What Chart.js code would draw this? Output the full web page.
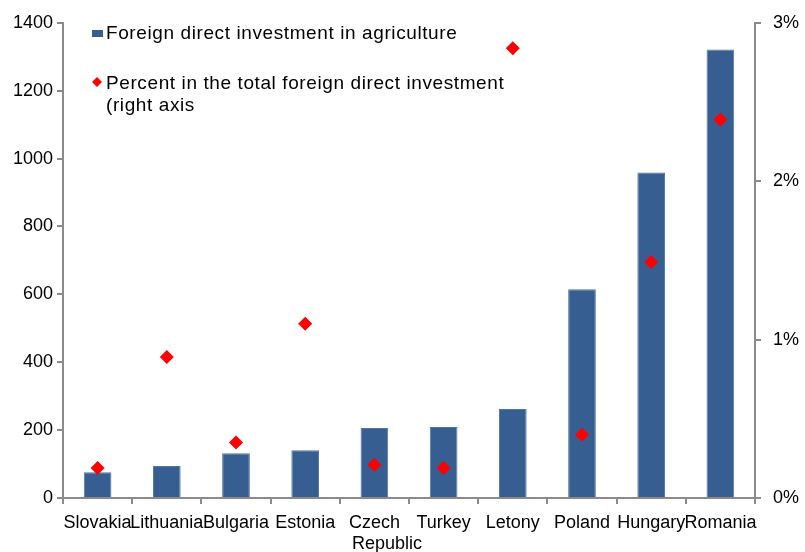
<!DOCTYPE html>
<html>
<head>
<meta charset="utf-8">
<script src="https://cdn.jsdelivr.net/npm/chart.js@4/dist/chart.umd.min.js"></script>
<style>
  html, body { margin: 0; padding: 0; background: #fff; }
  #wrap { width: 805px; height: 552px; position: relative; }
</style>
</head>
<body>
<div id="wrap"><canvas id="fdiChart"></canvas></div>
<script>
// data
const countries = ['Slovakia', 'Lithuania', 'Bulgaria', 'Estonia', ['Czech', 'Republic'],
                   'Turkey', 'Letony', 'Poland', 'Hungary', 'Romania'];
const fdiAgriculture = [76, 94, 132, 141, 206, 209, 262, 615, 959, 1321];
const sharePercent = [0.19, 0.89, 0.35, 1.10, 0.21, 0.19, 2.84, 0.40, 1.49, 2.39];
const leftTicks = [0, 200, 400, 600, 800, 1000, 1200, 1400];
const rightTicks = [0, 1, 2, 3];
const seriesNames = ['Foreign direct investment in agriculture',
                     ['Percent in the total foreign direct investment', '(right axis']];

const axisGrey = '#8a8a8a';
const barBlue = '#365e91';
const fontFamily = '"Liberation Sans", Arial, sans-serif';

// legend drawn inside the plot, top left, like the original
const legendPlugin = {
    id: 'insideLegend',
    afterDraw(chart) {
        const c = chart.ctx;
        c.save();
        c.font = '19px ' + fontFamily;
        c.letterSpacing = '0.6px';
        c.textBaseline = 'middle';
        c.textAlign = 'left';

        c.fillStyle = barBlue;
        c.fillRect(92, 30, 11, 7);
        c.fillStyle = '#000';
        c.fillText(seriesNames[0], 106, 34);

        c.fillStyle = 'red';
        c.beginPath();
        c.moveTo(97, 77); c.lineTo(102, 82); c.lineTo(97, 87); c.lineTo(92, 82);
        c.closePath();
        c.fill();
        c.fillStyle = '#000';
        c.fillText(seriesNames[1][0], 106, 84);
        c.fillText(seriesNames[1][1], 106, 106);
        c.restore();
    }
};

const ctx = document.getElementById('fdiChart');
new Chart(ctx, {
    data: {
        labels: countries,
        datasets: [{
            type: 'line',
            label: 'share',
            data: sharePercent,
            yAxisID: 'y1',
            showLine: false,
            pointStyle: 'rectRot',
            pointRadius: 7,
            pointBorderWidth: 0,
            backgroundColor: 'red',
            borderColor: 'red',
            order: 0
        }, {
            type: 'bar',
            label: 'fdi',
            data: fdiAgriculture,
            yAxisID: 'y',
            backgroundColor: barBlue,
            borderColor: '#4f77a8',
            borderWidth: 1,
            categoryPercentage: 1,
            barPercentage: 0.4,
            order: 1
        }]
    },
    options: {
        responsive: true,
        maintainAspectRatio: false,
        animation: false,
        layout: { padding: { top: 22, left: 0, right: 0, bottom: 0 } },
        plugins: {
            legend: { display: false },
            tooltip: { enabled: false }
        },
        scales: {
            x: {
                offset: true,
                border: { display: true, color: axisGrey, width: 2 },
                grid: { offset: true, drawOnChartArea: false, drawTicks: true, tickLength: 6, color: axisGrey, lineWidth: 2 },
                ticks: {
                    color: '#000', autoSkip: false, maxRotation: 0, padding: 8,
                    font: { family: fontFamily, size: 18 },
                    // the two-line label is left aligned in the original
                    callback(value) {
                        const l = this.getLabelForValue(value);
                        return Array.isArray(l) ? [l[0], '     ' + l[1]] : l;
                    }
                },
                afterFit(scale) { scale.height = 54; }
            },
            y: {
                position: 'left',
                min: 0, max: 1400,
                afterBuildTicks(scale) { scale.ticks = leftTicks.map(v => ({ value: v })); },
                border: { display: true, color: axisGrey, width: 2 },
                grid: { drawOnChartArea: false, drawTicks: true, tickLength: 6, color: axisGrey, lineWidth: 2 },
                ticks: {
                    color: '#000', padding: 4,
                    font: { family: fontFamily, size: 18 },
                    callback: v => String(v)
                },
                afterFit(scale) { scale.width = 63; }
            },
            y1: {
                position: 'right',
                min: 0, max: 3,
                afterBuildTicks(scale) { scale.ticks = rightTicks.map(v => ({ value: v })); },
                border: { display: true, color: axisGrey, width: 2 },
                grid: { drawOnChartArea: false, drawTicks: true, tickLength: 6, color: axisGrey, lineWidth: 2 },
                ticks: {
                    color: '#000', padding: 12,
                    font: { family: fontFamily, size: 18 },
                    callback: v => v + '%'
                },
                afterFit(scale) { scale.width = 50; }
            }
        }
    },
    plugins: [legendPlugin]
});
</script>
</body>
</html>
